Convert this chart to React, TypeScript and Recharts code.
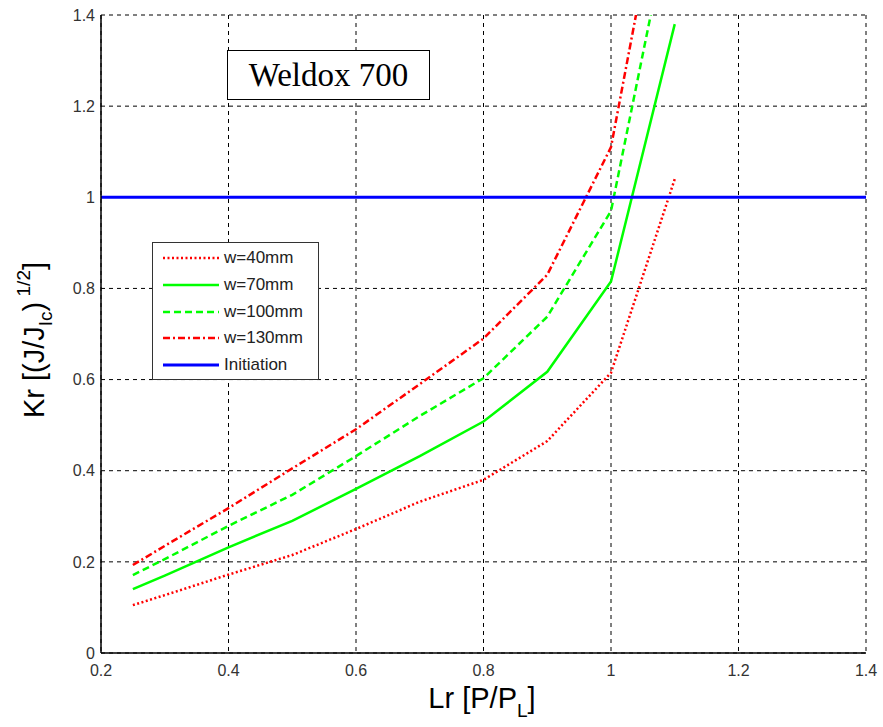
import React from 'react';
import { LineChart, Line, XAxis, YAxis, CartesianGrid, Label } from 'recharts';

// Lr values where the curves are sampled
const lrValues = [0.25, 0.3, 0.4, 0.5, 0.6, 0.7, 0.8, 0.9, 1.0, 1.1];
// Kr values per plate width
const krW40 = [0.105, 0.127, 0.172, 0.215, 0.272, 0.332, 0.38, 0.465, 0.615, 1.04];
const krW70 = [0.14, 0.17, 0.232, 0.29, 0.36, 0.432, 0.508, 0.617, 0.815, 1.38];
const krW100 = [0.171, 0.206, 0.279, 0.347, 0.432, 0.52, 0.603, 0.738, 0.97, 1.66];
const krW130 = [0.193, 0.235, 0.318, 0.405, 0.491, 0.59, 0.69, 0.83, 1.11, 1.85];
// Initiation line
const initiationLr = [0.2, 1.4];
const initiationKr = [1, 1];

const xTicks = [0.2, 0.4, 0.6, 0.8, 1.0, 1.2, 1.4];
const yTicks = [0, 0.2, 0.4, 0.6, 0.8, 1.0, 1.2, 1.4];

const seriesNames = ['w=40mm', 'w=70mm', 'w=100mm', 'w=130mm', 'Initiation'];

const toSeries = (xs: number[], ys: number[]) => xs.map((x, i) => ({ x, y: ys[i] }));

const styles = [
  { color: '#ff0000', width: 2.5, dash: '2 2.5' },
  { color: '#00ff00', width: 2.5, dash: undefined },
  { color: '#00ff00', width: 2.5, dash: '7 4' },
  { color: '#ff0000', width: 2.5, dash: '7 3 2 3' },
  { color: '#0000ff', width: 3, dash: undefined },
];

const seriesData = [
  toSeries(lrValues, krW40),
  toSeries(lrValues, krW70),
  toSeries(lrValues, krW100),
  toSeries(lrValues, krW130),
  toSeries(initiationLr, initiationKr),
];

const fmt = (v: number) => String(parseFloat(v.toFixed(1)));

const FONT = '"Liberation Sans", Arial, sans-serif';

const XLabel = () => (
  <text x={482} y={708} textAnchor="middle" fontFamily={FONT} fontSize={29} fill="#000">
    <tspan>Lr [P/P</tspan>
    <tspan fontSize={19} dy={9}>L</tspan>
    <tspan dy={-9}>]</tspan>
  </text>
);

const YLabel = () => (
  <text
    x={44}
    y={340}
    textAnchor="middle"
    transform="rotate(-90, 44, 340)"
    fontFamily={FONT}
    fontSize={29}
    fill="#000"
  >
    <tspan>Kr [(J/J</tspan>
    <tspan fontSize={19} dy={8}>Ic</tspan>
    <tspan dy={-8}>)</tspan>
    <tspan fontSize={19} dy={-14}> 1/2</tspan>
    <tspan dy={14}>]</tspan>
  </text>
);

export default function App() {
  return (
    <div style={{ position: 'absolute', left: 0, top: 0, width: 883, height: 727, background: '#fff' }}>
      <LineChart width={883} height={727} margin={{ top: 15, right: 17, bottom: 0, left: 0 }}>
        <CartesianGrid stroke="#000" strokeDasharray="4 4" strokeWidth={1} />
        <XAxis
          type="number"
          dataKey="x"
          domain={[0.2, 1.4]}
          ticks={xTicks}
          tickFormatter={fmt}
          allowDataOverflow
          height={74}
          axisLine={{ stroke: '#000', strokeWidth: 1.5 }}
          tickLine={false}
          tickSize={5}
          tickMargin={7}
          tick={{ fontSize: 16, fill: '#333', fontFamily: FONT }}
        >
          <Label content={() => <XLabel />} />
        </XAxis>
        <YAxis
          type="number"
          dataKey="y"
          domain={[0, 1.4]}
          ticks={yTicks}
          tickFormatter={fmt}
          allowDataOverflow
          width={101}
          axisLine={{ stroke: '#000', strokeWidth: 1.5 }}
          tickLine={false}
          tickSize={4}
          tickMargin={2}
          tick={{ fontSize: 16, fill: '#333', fontFamily: FONT }}
        >
          <Label content={() => <YLabel />} />
        </YAxis>
        {seriesData.map((d, i) => (
          <Line
            key={seriesNames[i]}
            name={seriesNames[i]}
            data={d}
            dataKey="y"
            type="linear"
            stroke={styles[i].color}
            strokeWidth={styles[i].width}
            strokeDasharray={styles[i].dash}
            dot={false}
            activeDot={false}
            isAnimationActive={false}
          />
        ))}
      </LineChart>

      <div
        style={{
          position: 'absolute',
          left: 227,
          top: 50,
          width: 203,
          height: 50,
          boxSizing: 'border-box',
          border: '1.5px solid #000',
          background: '#fff',
          display: 'flex',
          alignItems: 'center',
          justifyContent: 'center',
          fontFamily: '"Liberation Serif", "Times New Roman", serif',
          fontSize: 33,
          color: '#000',
        }}
      >
        Weldox 700
      </div>

      <div
        style={{
          position: 'absolute',
          left: 152,
          top: 242,
          width: 167,
          height: 138,
          boxSizing: 'border-box',
          border: '1px solid #333',
          background: '#fff',
          fontFamily: FONT,
          fontSize: 17,
          color: '#222',
        }}
      >
        {seriesNames.map((n, i) => (
          <div
            key={n}
            style={{
              position: 'absolute',
              left: 9,
              top: 3 + i * 26.8,
              height: 24,
              display: 'flex',
              alignItems: 'center',
            }}
          >
            <svg width={58} height={10} style={{ display: 'block' }}>
              <line
                x1={1}
                y1={5}
                x2={57}
                y2={5}
                stroke={styles[i].color}
                strokeWidth={styles[i].width}
                strokeDasharray={styles[i].dash}
              />
            </svg>
            <span style={{ marginLeft: 4, whiteSpace: 'nowrap' }}>{n}</span>
          </div>
        ))}
      </div>
    </div>
  );
}
